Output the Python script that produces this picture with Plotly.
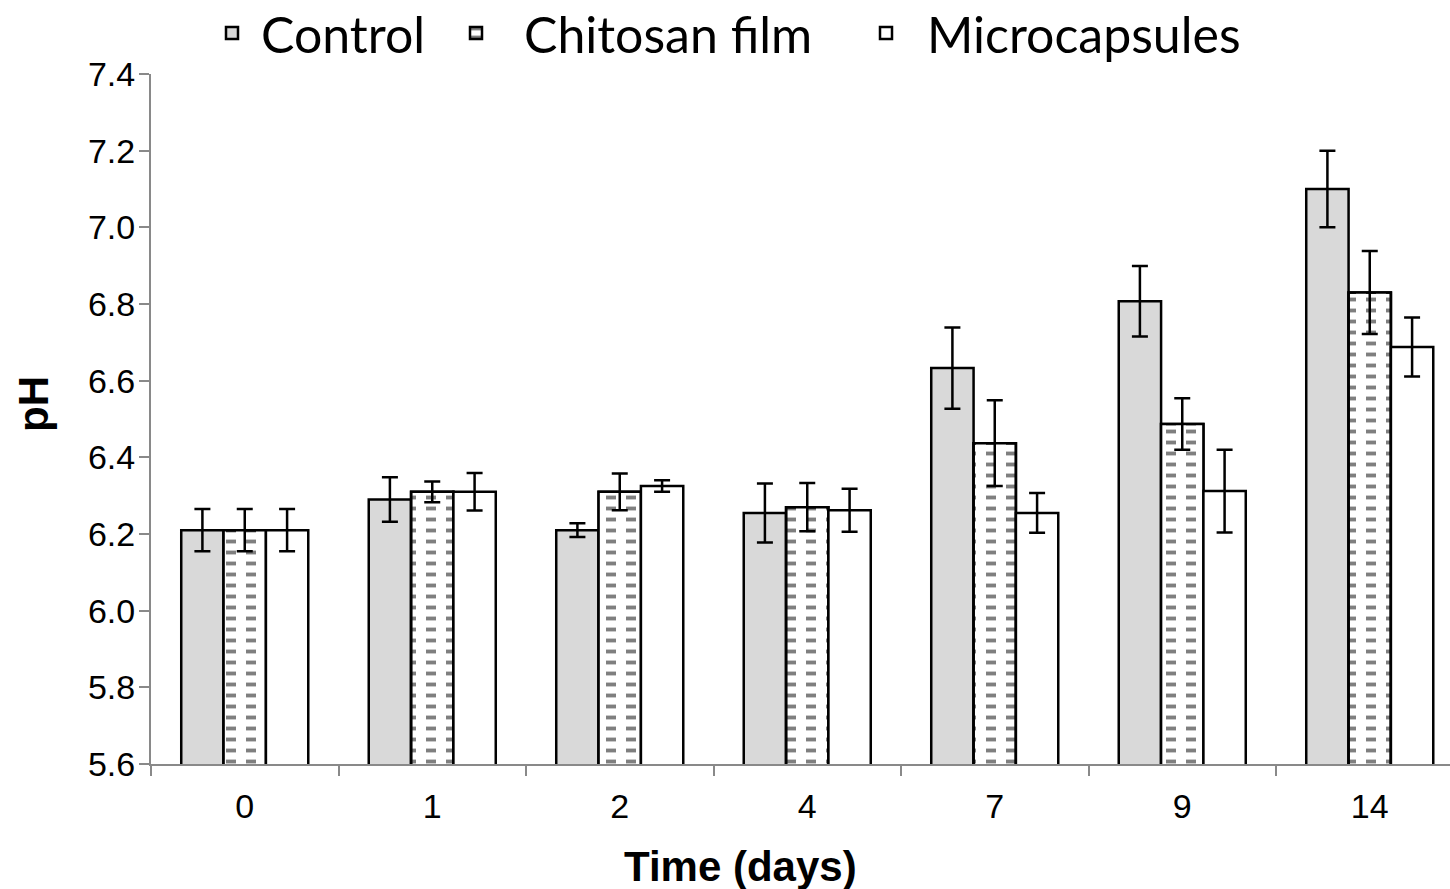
import plotly.graph_objects as go

# ---- data ----
days = ["0", "1", "2", "4", "7", "9", "14"]
control = [6.21, 6.29, 6.21, 6.255, 6.633, 6.807, 7.10]
control_err = [0.055, 0.058, 0.018, 0.077, 0.106, 0.092, 0.100]
chitosan = [6.21, 6.31, 6.31, 6.27, 6.437, 6.487, 6.83]
chitosan_err = [0.055, 0.027, 0.048, 0.063, 0.112, 0.067, 0.108]
micro = [6.21, 6.31, 6.325, 6.262, 6.255, 6.312, 6.688]
micro_err = [0.055, 0.049, 0.015, 0.056, 0.052, 0.108, 0.077]
series_names = ["Control", "Chitosan film", "Microcapsules"]
x_title = "Time (days)"
y_title = "pH"

# ---- style ----
BAR_W = 0.2258
OFFS = [-0.3387, -0.1129, 0.1129]
OUTLINE = dict(color="black", width=2.5)
ERR = dict(type="data", visible=True, color="black", thickness=2.5, width=8)
AXIS_GRAY = "#898989"
TICK_FONT = dict(family="Liberation Sans, Arial, sans-serif", size=34, color="black")
LEG_FONT = dict(family="Lato, Open Sans, sans-serif", size=50, color="black")
TITLE_FONT = dict(family="Liberation Sans, Arial, sans-serif", size=42, color="black")

L, T, W, H = 151, 74, 1299, 690

fig = go.Figure()

fig.add_trace(go.Bar(
    x=days, y=control, name=series_names[0], legend="legend",
    width=BAR_W, offset=OFFS[0],
    marker=dict(color="#d9d9d9", line=OUTLINE),
    error_y=dict(array=control_err, **ERR),
))
fig.add_trace(go.Bar(
    x=days, y=chitosan, name=series_names[1], legend="legend2",
    width=BAR_W, offset=OFFS[1],
    marker=dict(color="white", line=OUTLINE,
                pattern=dict(shape="-", size=11, solidity=0.35,
                             fgcolor="black", bgcolor="white")),
))
# mask that breaks the horizontal lines into dashes (same data)
fig.add_trace(go.Bar(
    x=days, y=chitosan, name=series_names[1], showlegend=False,
    width=BAR_W, offset=OFFS[1], hoverinfo="skip",
    marker=dict(color="rgba(0,0,0,0)", line=OUTLINE,
                pattern=dict(shape="|", size=20, solidity=0.5,
                             fgcolor="white", bgcolor="rgba(0,0,0,0)",
                             fillmode="replace")),
    error_y=dict(array=chitosan_err, **ERR),
))
fig.add_trace(go.Bar(
    x=days, y=micro, name=series_names[2], legend="legend3",
    width=BAR_W, offset=OFFS[2],
    marker=dict(color="white", line=OUTLINE),
    error_y=dict(array=micro_err, **ERR),
))

leg_common = dict(orientation="h", yanchor="middle", xanchor="left",
                  y=1 + (T - 33) / H, font=LEG_FONT, bgcolor="rgba(0,0,0,0)")
fig.update_layout(
    width=1450, height=889,
    margin=dict(l=L, r=1450 - L - W, t=T, b=889 - T - H, pad=0, autoexpand=False),
    paper_bgcolor="white", plot_bgcolor="white",
    barmode="overlay",
    legend=dict(x=(203 - L) / W, itemwidth=48, **leg_common),
    legend2=dict(x=(428 - L) / W, itemwidth=86, **leg_common),
    legend3=dict(x=(845 - L) / W, itemwidth=72, **leg_common),
    xaxis=dict(
        type="category", range=[-0.5, 6.428],
        showline=True, linecolor=AXIS_GRAY, linewidth=2,
        ticks="outside", tickson="boundaries", ticklen=10,
        tickcolor=AXIS_GRAY, tickwidth=2,
        tickfont=TICK_FONT, ticklabelstandoff=11,
        showgrid=False, zeroline=False,
    ),
    yaxis=dict(
        range=[5.6, 7.4], dtick=0.2, tick0=5.6, tickformat=".1f",
        showline=True, linecolor=AXIS_GRAY, linewidth=2,
        ticks="outside", ticklen=10, tickcolor=AXIS_GRAY, tickwidth=2,
        tickfont=TICK_FONT, ticklabelstandoff=-3,
        showgrid=False, zeroline=False,
    ),
    annotations=[
        dict(text="<b>%s</b>" % x_title, xref="paper", yref="paper",
             x=(740 - L) / W, y=-(866 - T - H) / H, xanchor="center",
             yanchor="middle", showarrow=False, font=TITLE_FONT),
        dict(text="<b>%s</b>" % y_title, xref="paper", yref="paper",
             x=(33 - L) / W, y=1 - (404 - T) / H, xanchor="center",
             yanchor="middle", textangle=-90, showarrow=False, font=TITLE_FONT),
    ],
)

fig.write_html("out.html")
